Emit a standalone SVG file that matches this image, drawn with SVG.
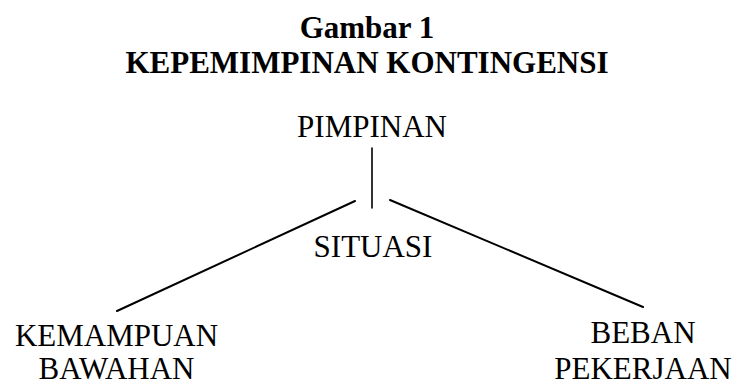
<svg xmlns="http://www.w3.org/2000/svg" width="737" height="387" viewBox="0 0 737 387">
<style>
.t{font-family:"Liberation Serif","Times New Roman",serif;font-size:31px;fill:#000;text-anchor:middle}
.b{font-weight:bold}
.c line{stroke:#000;stroke-width:2;stroke-linecap:round}
</style>
<rect width="737" height="387" fill="#fff"/>
<g id="title">
<text class="t b" x="367" y="38">Gambar 1</text>
<text class="t b" x="367" y="73">KEPEMIMPINAN KONTINGENSI</text>
</g>
<g class="c" id="connectors">
<line x1="372" y1="148" x2="372" y2="208" style="stroke-width:1.6"/>
<line x1="355" y1="201" x2="117" y2="311"/>
<line x1="390" y1="200" x2="643" y2="307"/>
</g>
<g id="pimpinan"><text class="t" x="372" y="137">PIMPINAN</text></g>
<g id="situasi"><text class="t" x="373" y="257">SITUASI</text></g>
<g id="kemampuan"><text class="t" x="116.5" y="346">KEMAMPUAN</text><text class="t" x="116.5" y="379">BAWAHAN</text></g>
<g id="beban"><text class="t" x="643" y="343">BEBAN</text><text class="t" x="643" y="379">PEKERJAAN</text></g>
</svg>
